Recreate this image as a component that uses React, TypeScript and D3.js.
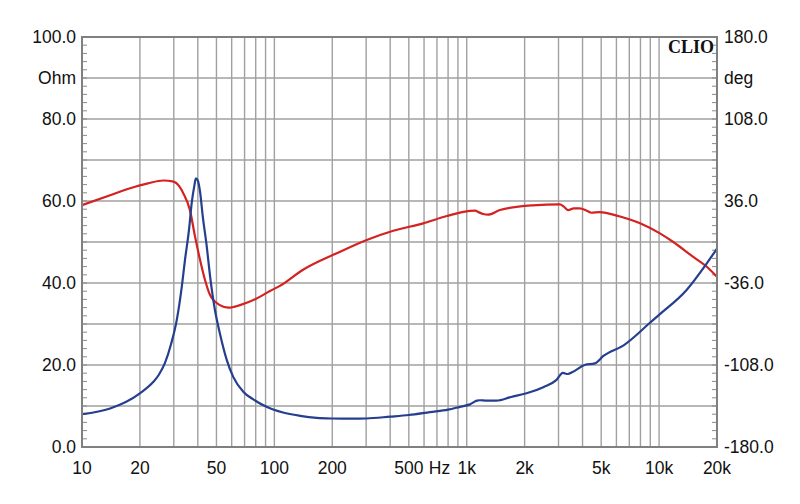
import React from "react";
import * as d3 from "d3";

const impFreq = [10, 14, 20, 23.5, 25, 27, 29, 31.1, 33, 34.3, 36, 37.2, 38.3, 39.1, 40, 41.1, 42.5, 44.3, 46.5, 49.1, 52.1, 56.6, 61.1, 68.9, 77.7, 91, 111, 136, 166, 200, 250, 300, 400, 500, 644, 800, 922, 1040, 1130, 1171, 1266, 1428, 1700, 2048, 2500, 2920, 3160, 3350, 3550, 4100, 4640, 5130, 6540, 8970, 10100, 13900, 17700, 20000];
const impOhm = [8.0, 9.4, 13.1, 15.9, 17.5, 20.5, 25, 31, 39, 45.6, 53, 59.6, 63.5, 65.5, 65, 62.2, 56, 49.7, 41, 33.4, 27.7, 21.2, 17.1, 13.5, 11.6, 9.8, 8.4, 7.6, 7.1, 6.95, 6.9, 6.95, 7.4, 7.8, 8.5, 9.1, 9.8, 10.4, 11.3, 11.4, 11.3, 11.3, 12.2, 13.1, 14.6, 16.3, 18.1, 17.8, 18.3, 20.0, 20.4, 22.2, 24.8, 30.3, 32.4, 38.3, 44.8, 48.4];

const phaseFreq = [10, 14, 17.8, 22, 26.5, 29.9, 32, 33.6, 36.4, 38.7, 41.1, 43.6, 46.3, 52.1, 57.6, 66.3, 80, 94.9, 106.9, 141, 211, 302, 415, 594, 787, 1039, 1105, 1160, 1218, 1290, 1488, 2208, 3050, 3200, 3370, 3600, 3870, 4200, 4450, 4900, 6200, 7960, 10100, 11800, 15000, 17700, 20000];
const phaseDeg = [32.4, 41, 47.2, 51.5, 54, 53, 49, 42.8, 28, 4.7, -15.8, -33.4, -46.5, -55.4, -57.7, -55.4, -50, -43, -38.5, -24.4, -9.9, 1.8, 9.9, 16.4, 22.8, 27.3, 27.5, 26, 24.6, 24.0, 28.1, 32.2, 33.1, 31, 28, 29.6, 29.6, 27.5, 25.7, 26.3, 22.6, 16.5, 7.6, 0.2, -12.9, -21.7, -30.5];

const xTickLabels = [
  { f: 10, t: "10" }, { f: 20, t: "20" }, { f: 50, t: "50" }, { f: 100, t: "100" },
  { f: 200, t: "200" }, { f: 500, t: "500" }, { f: 1000, t: "1k" }, { f: 2000, t: "2k" },
  { f: 5000, t: "5k" }, { f: 10000, t: "10k" }, { f: 20000, t: "20k" },
];
const leftLabels = [
  { v: 100, t: "100.0" }, { v: 90, t: "Ohm" }, { v: 80, t: "80.0" }, { v: 60, t: "60.0" },
  { v: 40, t: "40.0" }, { v: 20, t: "20.0" }, { v: 0, t: "0.0" },
];
const rightLabels = [
  { v: 100, t: "180.0" }, { v: 90, t: "deg" }, { v: 80, t: "108.0" }, { v: 60, t: "36.0" },
  { v: 40, t: "-36.0" }, { v: 20, t: "-108.0" }, { v: 0, t: "-180.0" },
];

const L = 82, R = 717, T = 37, B = 447;

export default function App() {
  const x = d3.scaleLog().domain([10, 20000]).range([L, R]);
  const y = d3.scaleLinear().domain([0, 100]).range([B, T]);
  const yDeg = d3.scaleLinear().domain([-180, 180]).range([B, T]);

  const gridF: number[] = [];
  for (let dec = 10; dec < 20000; dec *= 10) {
    for (let m = 1; m <= 9; m++) {
      const f = dec * m;
      if (f > 10 && f < 20000) gridF.push(f);
    }
  }
  const gridY = d3.range(10, 100, 10);
  const minorY = d3.range(2, 100, 2);

  const impLine = d3.line<number>()
    .x((_, i) => x(impFreq[i]))
    .y((d) => y(d))
    .curve(d3.curveMonotoneX);
  const phaseLine = d3.line<number>()
    .x((_, i) => x(phaseFreq[i]))
    .y((d) => yDeg(d))
    .curve(d3.curveMonotoneX);

  const font = "'Liberation Sans', Arial, sans-serif";

  return (
    <svg width={800} height={504} style={{ position: "absolute", left: 0, top: 0, background: "#fff" }}>
      <rect x={0} y={0} width={800} height={504} fill="#fff" />
      {gridF.map((f) => (
        <line key={"gx" + f} x1={x(f)} x2={x(f)} y1={T} y2={B} stroke="#a0a0a0" strokeWidth={1.4} />
      ))}
      {gridY.map((v) => (
        <line key={"gy" + v} x1={L} x2={R} y1={y(v)} y2={y(v)} stroke="#a0a0a0" strokeWidth={1.4} />
      ))}
      {minorY.map((v) => (
        <g key={"mt" + v}>
          <line x1={L} x2={L + 5} y1={y(v)} y2={y(v)} stroke="#8a8a8a" strokeWidth={1} />
          <line x1={R - 5} x2={R} y1={y(v)} y2={y(v)} stroke="#8a8a8a" strokeWidth={1} />
        </g>
      ))}
      <path d={phaseLine(phaseDeg) || ""} fill="none" stroke="#d42121" strokeWidth={2.2} />
      <path d={impLine(impOhm) || ""} fill="none" stroke="#253f8e" strokeWidth={2.2} />
      <rect x={L} y={T} width={R - L} height={B - T} fill="none" stroke="#808080" strokeWidth={2} />
      <text x={714} y={53} textAnchor="end" fontFamily="'Liberation Serif', 'Times New Roman', serif" fontWeight="bold" fontSize={18} fill="#111">CLIO</text>
      {leftLabels.map((l) => (
        <text key={"ll" + l.t} x={76} y={y(l.v)} dy="0.35em" textAnchor="end" fontFamily={font} fontSize={17.5} fill="#111">{l.t}</text>
      ))}
      {rightLabels.map((l) => (
        <text key={"rl" + l.t} x={724} y={y(l.v)} dy="0.35em" textAnchor="start" fontFamily={font} fontSize={17.5} fill="#111">{l.t}</text>
      ))}
      {xTickLabels.map((l) => (
        <text key={"xl" + l.t} x={x(l.f)} y={474} textAnchor="middle" fontFamily={font} fontSize={17.5} fill="#111">{l.t}</text>
      ))}
      <text x={x(500) + 20} y={474} textAnchor="start" fontFamily={font} fontSize={17.5} fill="#111">Hz</text>
    </svg>
  );
}
